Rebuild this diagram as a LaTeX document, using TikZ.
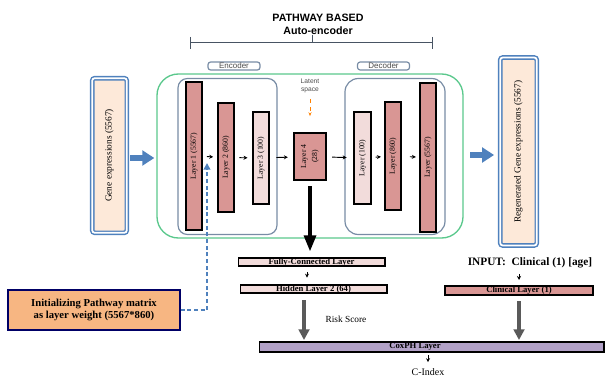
\documentclass[tikz,border=0pt]{standalone}
\usepackage{fontspec}
\setmainfont{Liberation Serif}
\newfontfamily\headfont{Liberation Sans}
\usetikzlibrary{arrows.meta}
\tikzset{every picture/.style={line width=0.75pt}}
\definecolor{layerred}{RGB}{217,150,148}
\definecolor{layerpale}{RGB}{242,220,219}
\definecolor{peach}{RGB}{253,233,217}
\definecolor{boxblue}{RGB}{79,129,189}
\definecolor{aegreen}{RGB}{90,200,140}
\definecolor{slate}{RGB}{120,140,165}
\definecolor{coxpurple}{RGB}{178,161,199}
\definecolor{initorange}{RGB}{247,182,130}
\definecolor{arrowgray}{RGB}{90,90,90}

\begin{document}
\begin{tikzpicture}[x=0.75pt,y=0.75pt,yscale=-1,xscale=1,
  layerbox/.style={draw=black, line width=1.2pt, inner sep=0pt, font=\fontsize{5.8}{6.3}\selectfont},
  genebox/.style={draw=boxblue, line width=1.1pt, double=white, double distance=1.3pt, rounded corners=2pt, fill=peach, inner sep=0pt, font=\fontsize{7}{8}\selectfont},
  flatbox/.style={draw=black, line width=1pt, inner sep=0pt, font=\bfseries\fontsize{6.5}{7}\selectfont},
  tagbox/.style={draw=slate, line width=0.9pt, rounded corners=2pt, inner sep=0pt, minimum width=39pt, minimum height=6pt, text=black!70, font=\headfont\fontsize{6}{6}\selectfont},
  tiny arrow/.style={-{Stealth[length=3pt,width=3pt]}, line width=0.7pt},
  fat arrow/.style={-{Triangle[length=9pt,width=11pt]}, line width=4.5pt, color=boxblue},
  gray arrow/.style={-{Triangle[length=8pt,width=8pt]}, line width=3.2pt, color=arrowgray}]
\useasboundingbox (0,0) rectangle (606,378);

% Title
\node (ttl) at (318,24) [align=center, font=\headfont\bfseries\fontsize{8}{9.5}\selectfont] {PATHWAY BASED\\Auto-encoder};
\draw [slate!60!black, line width=0.5pt] (190,42) -- (432,42) (190,37) -- (190,49) (432,37) -- (432,49) (312,35) -- (312,42);

%Shape: outer auto-encoder frame
\node (ae) at (310,156) [draw=aegreen, line width=1pt, rounded corners=16pt, minimum width=229.5pt, minimum height=123pt] {};
%Shape: encoder / decoder frames
\node (enc) at (227.5,156.5) [draw=slate, line width=0.9pt, rounded corners=7pt, minimum width=74.25pt, minimum height=117pt] {};
\node (dec) at (395,156.5) [draw=slate, line width=0.9pt, rounded corners=10pt, minimum width=75pt, minimum height=117pt] {};
\node (enctag) at (234,66) [tagbox, fill=white] {Encoder};
\node (dectag) at (383.5,66) [tagbox, fill=white] {Decoder};

% Layers
\node (l1) at (194,156) [layerbox, fill=layerred, minimum width=12pt, minimum height=111pt] {\rotatebox{90}{Layer 1 (5567)}};
\node (l2) at (226,157.5) [layerbox, fill=layerred, minimum width=12pt, minimum height=81.75pt] {\rotatebox{90}{Layer 2 (860)}};
\node (l3) at (261,158) [layerbox, fill=layerpale, minimum width=12pt, minimum height=69pt] {\rotatebox{90}{Layer 3 (100)}};
\node (l4) at (310,156.5) [layerbox, fill=layerred, minimum width=24pt, minimum height=35.25pt] {\rotatebox{90}{\shortstack{Layer 4\\(28)}}};
\node (l5) at (362.5,158) [layerbox, fill=layerpale, minimum width=12.5pt, minimum height=69pt] {\rotatebox{90}{Layer (100)}};
\node (l6) at (393,156) [layerbox, fill=layerred, minimum width=12pt, minimum height=81pt] {\rotatebox{90}{Layer (860)}};
\node (l7) at (428,157.5) [layerbox, fill=layerred, minimum width=12pt, minimum height=111.75pt] {\rotatebox{90}{Layer (5567)}};
\draw [tiny arrow, shorten <=3pt, shorten >=3pt] (l1) -- (l2);
\draw [tiny arrow, shorten <=3.5pt, shorten >=3.5pt] (l2) -- (l3);
\draw [tiny arrow, shorten <=5pt, shorten >=4pt] (l3) -- (l4);
\draw [tiny arrow, shorten <=4pt, shorten >=5pt] (l4) -- (l5);
\draw [tiny arrow, shorten <=3pt, shorten >=2.5pt] (l5) -- (l6);
\draw [tiny arrow, shorten <=6pt, shorten >=2.5pt] (l6) -- (l7);

% Text Node
\node (lat) at (310,86) [align=center, text=black!70, font=\headfont\fontsize{5}{5.5}\selectfont] {Latent\\space};
\draw [-{Stealth[length=3pt]}, orange, dashed, line width=0.6pt, shorten <=1pt, shorten >=12pt] (lat) -- (l4);

% Gene expression boxes
\node (gene) at (109.5,155.5) [genebox, minimum width=26pt, minimum height=116pt] {\rotatebox{90}{Gene expressions (5567)}};
\node (regen) at (518.5,151.5) [genebox, minimum width=27.5pt, minimum height=141pt] {\rotatebox{90}{Regenerated Gene expressions (5567)}};
\draw [fat arrow, shorten <=2pt, shorten >=1.5pt] (gene.east |- 0,158) -- (ae.west |- 0,158);
\draw [fat arrow, shorten <=5pt, shorten >=4pt] (ae.east |- 0,155) -- (regen.west |- 0,155);

% Survival part
\node (fc) at (311.5,262) [flatbox, fill=layerpale, minimum width=110pt, minimum height=6pt] {Fully-Connected Layer};
\node (hid) at (313.5,289) [flatbox, fill=layerpale, minimum width=110pt, minimum height=6pt] {Hidden Layer 2 (64)};
\node (cox) at (431.5,347) [flatbox, fill=coxpurple, minimum width=258.5pt, minimum height=7.5pt] {};
\node (coxtxt) at (415,347) [font=\bfseries\fontsize{6.5}{7}\selectfont, inner sep=0pt] {CoxPH Layer};
\node (cidx) at (428,372) [font=\fontsize{7.5}{8}\selectfont] {C-Index};
\node (inp) at (530,263) [font=\bfseries\fontsize{8.5}{9}\selectfont] {INPUT:\ \ Clinical (1) [age]};
\node (cli) at (519,290.5) [flatbox, fill=layerred, minimum width=111pt, minimum height=6.75pt] {Clinical Layer (1)};
\node (risk) at (346,319) [font=\fontsize{7}{8}\selectfont] {Risk Score};

\draw [-{Triangle[length=12pt,width=9pt]}, line width=2.4pt, shorten <=4pt, shorten >=4.5pt] (l4) -- (l4 |- fc.north);
\draw [tiny arrow, shorten <=4pt, shorten >=5pt] (fc.south -| 307,0) -- (hid.north -| 307,0);
\draw [gray arrow, shorten <=5pt, shorten >=1pt] (hid.south -| 304,0) -- (cox.north -| 304,0);
\draw [tiny arrow, shorten <=1pt, shorten >=4pt] (cli.north |- inp.south) -- (cli.north);
\draw [gray arrow, shorten <=4pt, shorten >=1pt] (cli.south) -- (cli.south |- cox.north);
\draw [tiny arrow, shorten <=2pt, shorten >=1pt] (cidx.north |- cox.south) -- (cidx.north);

% Pathway weight initialisation
\node (init) at (94,310) [draw=black!60!blue, line width=1.1pt, fill=initorange, minimum width=129pt, minimum height=30pt, align=center, font=\bfseries\fontsize{8}{9.5}\selectfont] {Initializing Pathway matrix\\as layer weight (5567*860)};
\coordinate (wgt) at (207,163);
\draw [-{Triangle[length=5pt,width=5pt]}, boxblue, line width=1.6pt, dash pattern=on 3pt off 2pt] (init.east) -| (wgt);
\end{tikzpicture}
\end{document}
